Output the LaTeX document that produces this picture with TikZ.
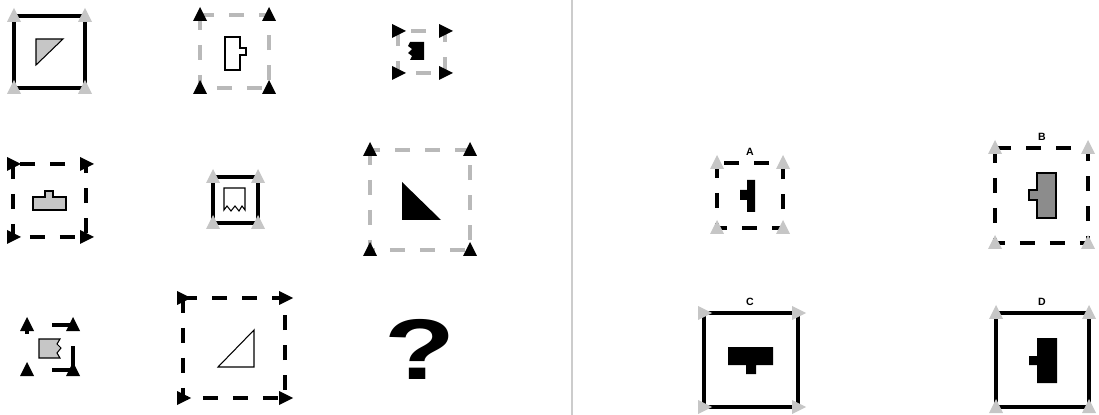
\documentclass[tikz,border=0pt]{standalone}
\usepackage{fontspec}
\newfontfamily\puzzlefont{Liberation Sans}
\tikzstyle{solidside}=[line width=2.5pt, black]
\tikzstyle{blackdash}=[line width=2.3pt, black, dash pattern=on 0.3cm off 0.3cm]
\tikzstyle{graydash}=[line width=2pt, gray!55, dash pattern=on 0.3cm off 0.3cm]
\tikzstyle{innergray}=[fill=gray!45, draw=black, line width=0.6pt]
\tikzstyle{innerdark}=[fill=gray!90, draw=black, line width=0.7pt]
\tikzstyle{innerwhite}=[fill=white, draw=black, line width=0.6pt]
\tikzstyle{optlabel}=[font=\puzzlefont\bfseries\fontsize{6}{7}\selectfont, inner sep=0pt]
% corner tips: colour, x, y
\newcommand{\tipup}[3]{\fill[#1] (#2-7,#3+6) -- (#2,#3-8) -- (#2+7,#3+6) -- cycle;}
\newcommand{\tipright}[3]{\fill[#1] (#2-6,#3-7) -- (#2+8,#3) -- (#2-6,#3+7) -- cycle;}

\begin{document}
\begin{tikzpicture}[x=0.02cm, y=-0.02cm]
	\useasboundingbox (0,0) rectangle (1099,415);
	\draw[gray!40, line width=1.2pt] (572,0) -- (572,415);
	% row 1
	\draw[solidside] (14,16) rectangle (85,88);
	\filldraw[innergray] (36,39) -- (63,39) -- (36,65) -- cycle;
	\tipup{gray!45}{14}{16} \tipup{gray!45}{85}{16} \tipup{gray!45}{14}{88} \tipup{gray!45}{85}{88}
	\draw[graydash] (200,15) rectangle (269,88);
	\filldraw[innerwhite] (225,37) -- (240,37) -- (240,48) -- (246,48) -- (246,55) -- (240,55) -- (240,70) -- (225,70) -- cycle;
	\tipup{black}{200}{15} \tipup{black}{269}{15} \tipup{black}{200}{88} \tipup{black}{269}{88}
	\draw[graydash] (398,31) rectangle (445,73);
	\fill[black] (410,42) -- (424,42) -- (424,60) -- (410,60) -- (412,56) -- (408,53) -- (412,49) -- (408,46) -- cycle;
	\tipright{black}{398}{31} \tipright{black}{445}{31} \tipright{black}{398}{73} \tipright{black}{445}{73}
	% row 2
	\draw[blackdash] (13,164) rectangle (86,237);
	\filldraw[innergray] (33,197) -- (45,197) -- (45,191) -- (53,191) -- (53,197) -- (66,197) -- (66,210) -- (33,210) -- cycle;
	\tipright{black}{13}{164} \tipright{black}{86}{164} \tipright{black}{13}{237} \tipright{black}{86}{237}
	\draw[solidside] (213,177) rectangle (258,223);
	\filldraw[innerwhite] (224,188) -- (245,188) -- (245,210) -- (242,206) -- (239,211) -- (235,206) -- (231,211) -- (227,206) -- (224,210) -- cycle;
	\tipup{gray!45}{213}{177} \tipup{gray!45}{258}{177} \tipup{gray!45}{213}{223} \tipup{gray!45}{258}{223}
	\draw[graydash] (370,150) rectangle (470,250);
	\fill[black] (402,182) -- (402,220) -- (441,220) -- cycle;
	\tipup{black}{370}{150} \tipup{black}{470}{150} \tipup{black}{370}{250} \tipup{black}{470}{250}
	% row 3
	\draw[solidside] (27,325) -- (27,334) (52,325) -- (73,325) (73,346) -- (73,370) -- (52,370);
	\filldraw[innergray] (39,339) -- (60,339) -- (57,344) -- (61,348) -- (57,353) -- (60,358) -- (39,358) -- cycle;
	\tipup{black}{27}{325} \tipup{black}{73}{325} \tipup{black}{27}{370} \tipup{black}{73}{370}
	\draw[blackdash] (183,298) rectangle (285,398);
	\draw[black, line width=0.6pt] (218,367) -- (254,330) -- (254,367) -- cycle;
	\tipright{black}{183}{298} \tipright{black}{285}{298} \tipright{black}{183}{398} \tipright{black}{285}{398}
	\node[font=\puzzlefont\bfseries\fontsize{49}{49}\selectfont, inner sep=0pt, xscale=1.35] (qmark) at (420,349) {?};
	% answers
	\node[optlabel] (labA) at (750,152) {A};
	\draw[blackdash] (717,163) rectangle (783,228);
	\fill[black] (747,180) -- (755,180) -- (755,212) -- (747,212) -- (747,200) -- (740,200) -- (740,190) -- (747,190) -- cycle;
	\tipup{gray!45}{717}{163} \tipup{gray!45}{783}{163} \tipup{gray!45}{717}{228} \tipup{gray!45}{783}{228}
	\node[optlabel] (labB) at (1042,137) {B};
	\draw[blackdash] (995,148) rectangle (1088,243);
	\filldraw[innerdark] (1037,173) -- (1056,173) -- (1056,218) -- (1037,218) -- (1037,200) -- (1029,200) -- (1029,190) -- (1037,190) -- cycle;
	\tipup{gray!45}{995}{148} \tipup{gray!45}{1088}{148} \tipup{gray!45}{995}{243} \tipup{gray!45}{1088}{243}
	\node[optlabel] (labC) at (750,302) {C};
	\draw[solidside] (704,313) rectangle (798,407);
	\fill[black] (728,347) -- (773,347) -- (773,365) -- (756,365) -- (756,374) -- (746,374) -- (746,365) -- (728,365) -- cycle;
	\tipright{gray!45}{704}{313} \tipright{gray!45}{798}{313} \tipright{gray!45}{704}{407} \tipright{gray!45}{798}{407}
	\node[optlabel] (labD) at (1042,302) {D};
	\draw[solidside] (996,313) rectangle (1089,407);
	\fill[black] (1037,338) -- (1057,338) -- (1057,383) -- (1037,383) -- (1037,365) -- (1029,365) -- (1029,356) -- (1037,356) -- cycle;
	\tipup{gray!45}{996}{313} \tipup{gray!45}{1089}{313} \tipup{gray!45}{996}{407} \tipup{gray!45}{1089}{407}
\end{tikzpicture}
\end{document}
